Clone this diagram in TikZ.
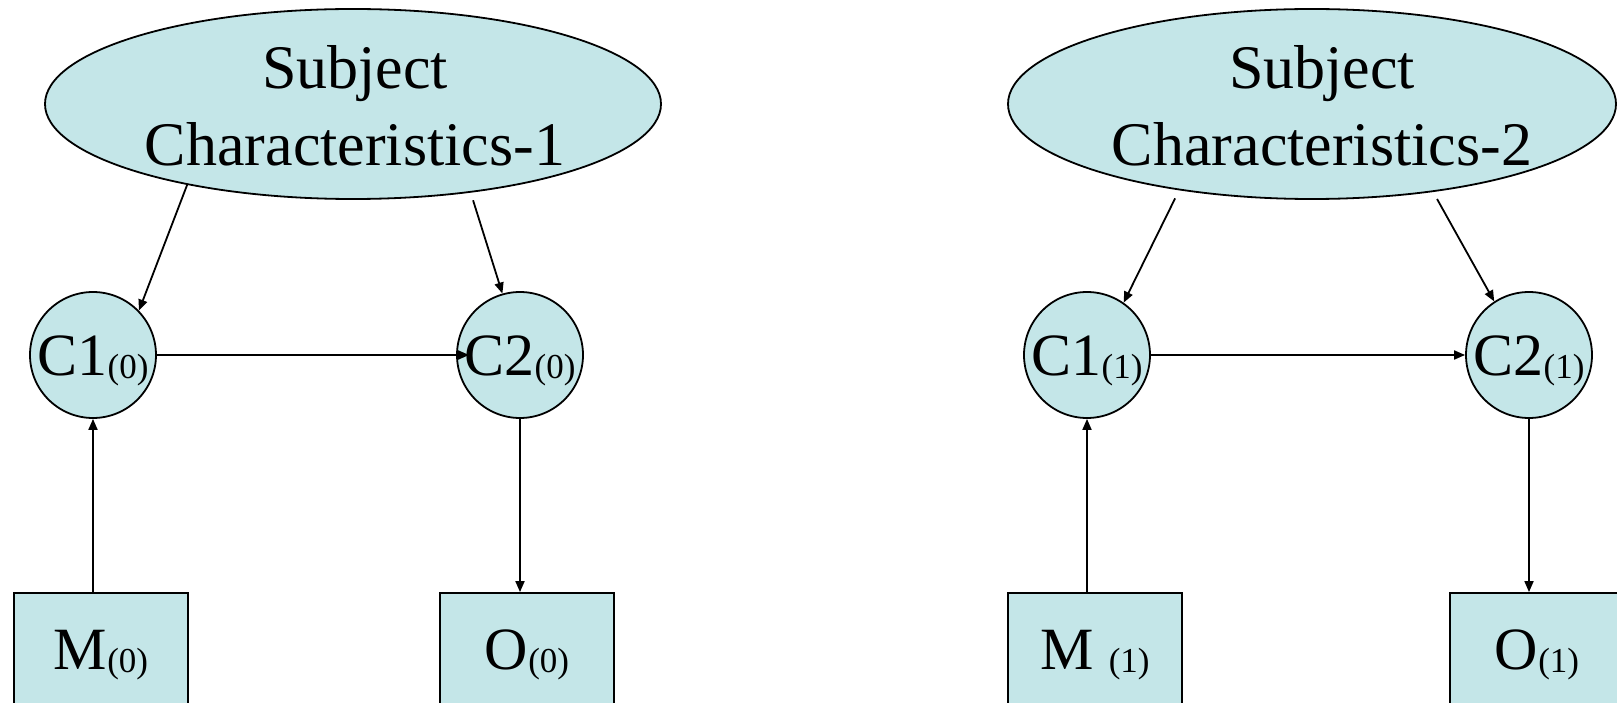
\documentclass[tikz,border=0pt]{standalone}
\usepackage{fontspec}
\setmainfont{Liberation Serif}
\usetikzlibrary{shapes.geometric,arrows.meta}
\definecolor{fillc}{RGB}{196,230,232}
\newcommand{\mysub}[1]{\raisebox{-3pt}{\fontsize{35}{35}\selectfont #1}}
\begin{document}
\begin{tikzpicture}[x=1pt,y=-1pt,
  ell/.style={ellipse, draw=black, line width=1.8pt, fill=fillc, inner sep=0pt},
  eltext/.style={align=center, inner sep=0pt, font=\fontsize{62}{77}\selectfont},
  circ/.style={circle, draw=black, line width=1.8pt, fill=fillc, minimum size=126pt, inner sep=0pt, text height=40pt, text depth=0pt, font=\fontsize{60}{60}\selectfont},
  boxn/.style={rectangle, draw=black, line width=1.8pt, fill=fillc, minimum width=174pt, minimum height=112pt, inner sep=0pt, text height=40pt, text depth=0pt, font=\fontsize{60}{60}\selectfont},
  arr/.style={line width=1.8pt, -{Triangle[length=11pt,width=9pt]}}
]
\useasboundingbox (0,0) rectangle (1617,703);
% left diagram
\node[ell, minimum width=616pt, minimum height=190pt] (sc1) at (353,104) {};
\node[eltext] (sc1t) at (355,105.5) {Subject\\Characteristics-1};
\node[circ] (c10) at (93,355) {\makebox[0pt]{C1\mysub{(0)}}};
\node[circ] (c20) at (520,355) {\makebox[0pt]{C2\mysub{(0)}}};
\node[boxn] (m0) at (101,649) {M\mysub{(0)}};
\node[boxn] (o0) at (527,649) {O\mysub{(0)}};
% right diagram
\node[ell, minimum width=608pt, minimum height=190pt] (sc2) at (1312,104) {};
\node[eltext] (sc2t) at (1322,105.5) {Subject\\Characteristics-2};
\node[circ] (c11) at (1087,355) {\makebox[0pt]{C1\mysub{(1)}}};
\node[circ] (c21) at (1529,355) {\makebox[0pt]{C2\mysub{(1)}}};
\node[boxn] (m1) at (1095,649) {M \mysub{(1)}};
\node[boxn] (o1) at (1537,649) {O\mysub{(1)}};
% connectors left
\draw[arr] (sc1.206) -- (c10.44);
\draw[arr, shorten <=8pt] (sc1.323.5) -- (c20.106);
\draw[arr] (c10.east) -- ([xshift=13pt]c20.west);
\draw[arr] (c10.south |- m0.north) -- (c10.south);
\draw[arr] (c20.south) -- (c20.south |- o0.north);
% connectors right
\draw[arr, shorten <=9pt] (sc2.213.5) -- (c11.55);
\draw[arr, shorten <=8pt] (sc2.324.7) -- (c21.123);
\draw[arr] (c11.east) -- (c21.west);
\draw[arr] (c11.south |- m1.north) -- (c11.south);
\draw[arr] (c21.south) -- (c21.south |- o1.north);
\end{tikzpicture}
\end{document}
